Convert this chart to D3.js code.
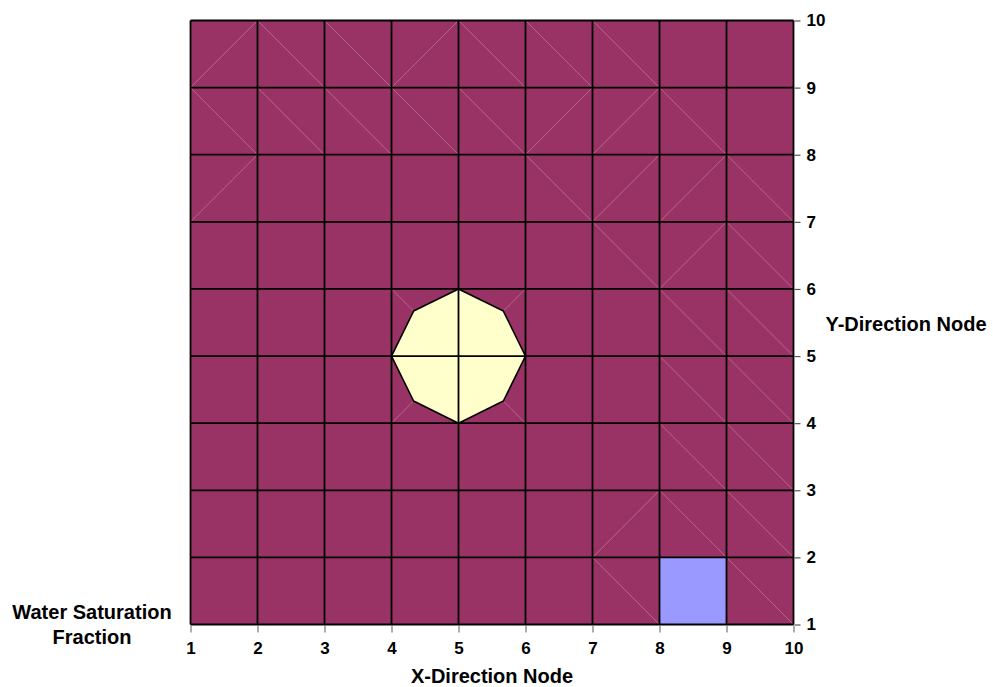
<!DOCTYPE html>
<html>
<head>
<meta charset="utf-8">
<script src="https://cdn.jsdelivr.net/npm/d3@7"></script>
<style>
  html, body { margin: 0; padding: 0; background: #fff; }
  svg text { font-family: "Liberation Sans", Arial, sans-serif; font-weight: bold; fill: #000; }
</style>
</head>
<body>
<svg id="chart" width="993" height="687"></svg>
<script>
// Grid nodes and tick labels
const xNodes = [1, 2, 3, 4, 5, 6, 7, 8, 9, 10];
const yNodes = [1, 2, 3, 4, 5, 6, 7, 8, 9, 10];
const xTickLabels = ["1", "2", "3", "4", "5", "6", "7", "8", "9", "10"];
const yTickLabels = ["1", "2", "3", "4", "5", "6", "7", "8", "9", "10"];

// Saturation bands and their fills
const bandNames = ["low", "mid", "high"];
const bandColors = ["#993366", "#9999FF", "#FFFFCC"];

// Band of each grid cell, rows listed from the top (y 9-10) down to y 1-2
const cellBands = [
  [0, 0, 0, 0, 0, 0, 0, 0, 0],
  [0, 0, 0, 0, 0, 0, 0, 0, 0],
  [0, 0, 0, 0, 0, 0, 0, 0, 0],
  [0, 0, 0, 0, 0, 0, 0, 0, 0],
  [0, 0, 0, 0, 0, 0, 0, 0, 0],
  [0, 0, 0, 0, 0, 0, 0, 0, 0],
  [0, 0, 0, 0, 0, 0, 0, 0, 0],
  [0, 0, 0, 0, 0, 0, 0, 0, 0],
  [0, 0, 0, 0, 0, 0, 0, 1, 0]
];

// Triangulation diagonal of each cell, top row first: u = rising, d = falling, . = none
const cellDiagonals = [
  "udduddd..",
  "ddddduud.",
  "u....duud",
  "......dud",
  "...du..dd",
  "...ud..dd",
  ".......dd",
  "......udd",
  "......d.d"
];

// High-saturation contour around the centre node (x, y in node units)
const highContourX = [5, 5.67, 6, 5.67, 5, 4.33, 4, 4.33];
const highContourY = [6, 5.67, 5, 4.33, 4, 4.33, 5, 5.67];

const svg = d3.select("#chart");
const x = d3.scaleLinear().domain([1, 10]).range([190.5, 793.5]);
const y = d3.scaleLinear().domain([1, 10]).range([624.5, 20.5]);

const plot = svg.append("g");

// Cell fills
cellBands.forEach((row, r) => {
  row.forEach((b, c) => {
    const x0 = xNodes[c], x1 = xNodes[c + 1];
    const yTop = yNodes[yNodes.length - 1 - r], yBot = yNodes[yNodes.length - 2 - r];
    plot.append("rect")
      .attr("x", x(x0)).attr("y", y(yTop))
      .attr("width", x(x1) - x(x0)).attr("height", y(yBot) - y(yTop))
      .attr("fill", bandColors[b])
      .attr("shape-rendering", "crispEdges");
  });
});

// Faint triangulation diagonals
cellDiagonals.forEach((row, r) => {
  row.split("").forEach((d, c) => {
    if (d === ".") return;
    const x0 = xNodes[c], x1 = xNodes[c + 1];
    const yTop = yNodes[yNodes.length - 1 - r], yBot = yNodes[yNodes.length - 2 - r];
    plot.append("line")
      .attr("x1", x(x0)).attr("x2", x(x1))
      .attr("y1", d === "u" ? y(yBot) : y(yTop))
      .attr("y2", d === "u" ? y(yTop) : y(yBot))
      .attr("stroke", "#c986a8")
      .attr("stroke-width", 0.8)
      .attr("stroke-opacity", 0.75);
  });
});

// High band contour polygon
const contourPts = highContourX.map((v, i) => [x(v), y(highContourY[i])]);
plot.append("path")
  .attr("d", d3.line()(contourPts) + "Z")
  .attr("fill", bandColors[2])
  .attr("stroke", "#000")
  .attr("stroke-width", 1.6)
  .attr("stroke-linejoin", "round");

// Grid lines
const grid = svg.append("g").attr("stroke", "#000").attr("stroke-width", 1.8);
xNodes.forEach(v => {
  grid.append("line").attr("x1", x(v)).attr("x2", x(v)).attr("y1", y(1)).attr("y2", y(10));
});
yNodes.forEach(v => {
  grid.append("line").attr("x1", x(1)).attr("x2", x(10)).attr("y1", y(v)).attr("y2", y(v));
});

// Bottom axis
const xAxis = svg.append("g").attr("transform", `translate(0,${y(1) + 1})`)
  .call(d3.axisBottom(x).tickValues(xNodes).tickFormat((d, i) => xTickLabels[i]).tickSize(7).tickPadding(9));
xAxis.select(".domain").remove();
xAxis.selectAll(".tick line").attr("stroke", "#777").attr("stroke-width", 1.2);
xAxis.selectAll(".tick text").style("font-size", "17px").attr("fill", "#000");

// Right axis
const yAxis = svg.append("g").attr("transform", `translate(${x(10) + 1},0)`)
  .call(d3.axisRight(y).tickValues(yNodes).tickFormat((d, i) => yTickLabels[i]).tickSize(6).tickPadding(6));
yAxis.select(".domain").remove();
yAxis.selectAll(".tick line").attr("stroke", "#555").attr("stroke-width", 1.2);
yAxis.selectAll(".tick text").style("font-size", "17px").attr("fill", "#000");

// Titles
svg.append("text").attr("x", 492).attr("y", 683).attr("text-anchor", "middle")
  .style("font-size", "20px").text("X-Direction Node");
svg.append("text").attr("x", 906).attr("y", 331).attr("text-anchor", "middle")
  .style("font-size", "20px").text("Y-Direction Node");
svg.append("text").attr("x", 92).attr("y", 619).attr("text-anchor", "middle")
  .style("font-size", "20px").text("Water Saturation");
svg.append("text").attr("x", 92).attr("y", 644).attr("text-anchor", "middle")
  .style("font-size", "20px").text("Fraction");
</script>
</body>
</html>
